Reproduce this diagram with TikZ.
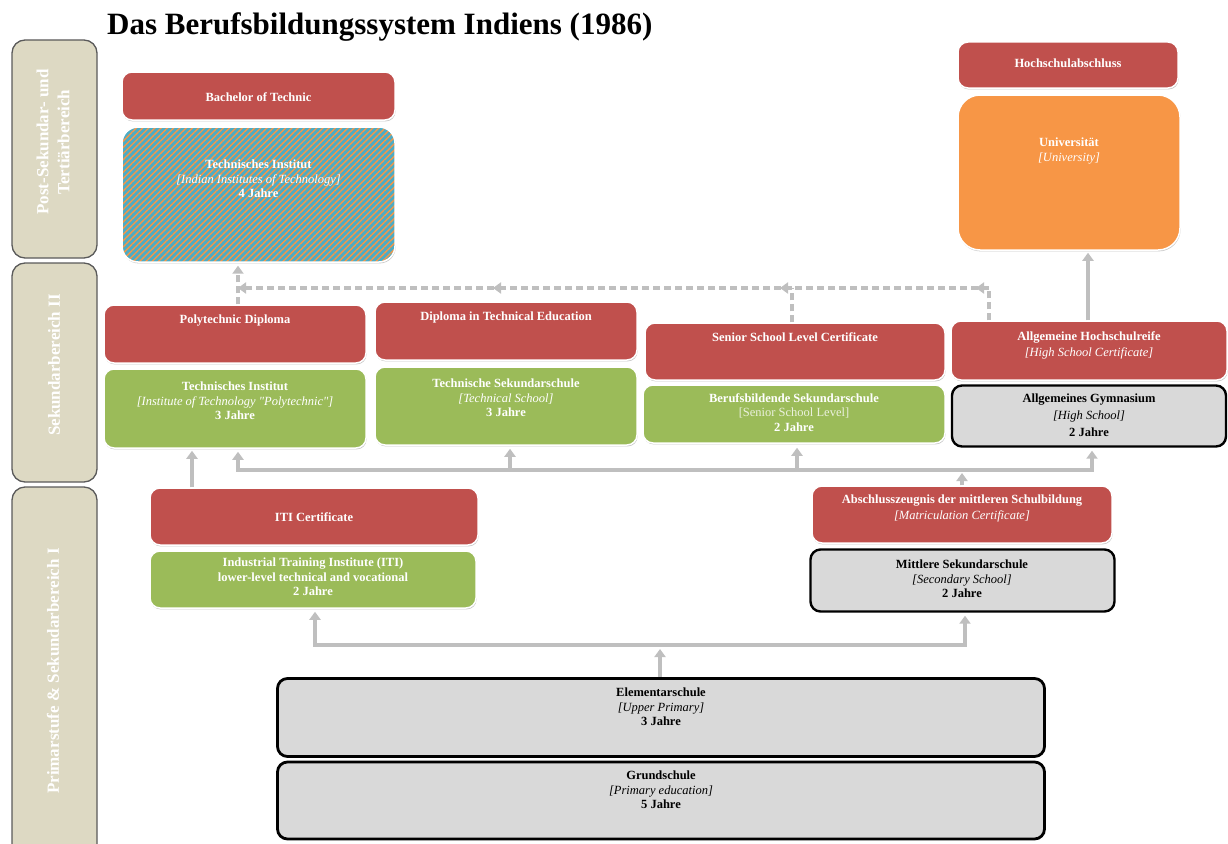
\documentclass[tikz,border=0pt]{standalone}
\usepackage{fontspec}
\setmainfont{Liberation Serif}
\usetikzlibrary{arrows.meta,shadows,patterns.meta}

\definecolor{tred}{HTML}{C0504D}
\definecolor{tgreen}{HTML}{9BBB59}
\definecolor{torange}{HTML}{F79646}
\definecolor{tteal}{HTML}{4BACC6}
\definecolor{tgrey}{HTML}{D9D9D9}
\definecolor{beige}{HTML}{DDD9C3}
\definecolor{sidedraw}{HTML}{5A5A5A}
\definecolor{arrgrey}{HTML}{BFBFBF}
\definecolor{palegreen}{HTML}{EBF1DE}

\newcommand\engl[1]{{\mdseries\itshape #1}}

\tikzset{
  box/.style={rectangle, rounded corners=10pt, draw=white, line width=1.5pt,
    inner sep=0pt,
    drop shadow={shadow xshift=0.6pt, shadow yshift=-1.4pt, opacity=0.22, fill=black}},
  redbox/.style={box, fill=tred},
  greenbox/.style={box, fill=tgreen},
  orangebox/.style={box, fill=torange, rounded corners=22pt},
  hatchbox/.style={box, preaction={fill=tteal},
    pattern={Lines[angle=45, distance=4.4pt, line width=1.4pt]}, pattern color=torange,
    rounded corners=16pt},
  greybox/.style={rectangle, rounded corners=10pt, draw=black, line width=2.4pt,
    fill=tgrey, inner sep=0pt},
  sidebox/.style={rectangle, rounded corners=13pt, draw=sidedraw, line width=1.3pt,
    fill=beige, inner sep=0pt},
  txt/.style={anchor=north, inner sep=0pt, align=center, text=white,
    font=\fontsize{12.5}{14.5}\selectfont\bfseries},
  dtxt/.style={txt, text=black},
  sidetxt/.style={rotate=90, align=center, text=white, inner sep=0pt,
    font=\fontsize{17}{21}\selectfont\bfseries},
  conn/.style={draw=arrgrey, line width=3.2pt},
  arr/.style={conn, -{Triangle[width=11pt,length=8pt]}},
  darr/.style={arr, dash pattern=on 7pt off 4pt},
  dconn/.style={conn, dash pattern=on 7pt off 4pt},
}

\begin{document}
\begin{tikzpicture}[x=1pt, y=-1pt]
\useasboundingbox (0,0) rectangle (1228,843);

% title
\node[anchor=base west, inner sep=0pt, font=\fontsize{31}{36}\selectfont\bfseries]
  (title) at (107,35) {Das Berufsbildungssystem Indiens (1986)};

% level bands on the left
\node[sidebox, minimum width=85pt, minimum height=218pt] (s1) at (54.5,149) {};
\node[sidebox, minimum width=85pt, minimum height=219pt] (s2) at (54.5,372.5) {};
\node[sidebox, minimum width=85pt, minimum height=370pt] (s3) at (54.5,672) {};
\node[sidetxt] (s1t) at (53,142) {Post-Sekundar- und\\Tertiärbereich};
\node[sidetxt] (s2t) at (54,365) {Sekundarbereich II};
\node[sidetxt] (s3t) at (53,671) {Primarstufe \& Sekundarbereich I};

% tertiary level
\node[redbox, minimum width=273pt, minimum height=48pt] (bt) at (258.5,96) {};
\node[hatchbox, minimum width=273pt, minimum height=135pt] (tip) at (258.5,194.5) {};
\node[redbox, minimum width=220pt, minimum height=46pt] (hsa) at (1068,65) {};
\node[orangebox, minimum width=222pt, minimum height=155pt] (uni) at (1069,172.5) {};

\node[txt] (bt-t) at (258.5,92) {Bachelor of Technic};
\node[txt] (tip-t) at (258.5,160) {Technisches Institut\\\engl{[Indian Institutes of Technology]}\\4 Jahre};
\node[txt] (hsa-t) at (1068,59) {Hochschulabschluss};
\node[txt] (uni-t) at (1069,138) {Universität\\\engl{[University]}};

% upper secondary level
\node[redbox, minimum width=262pt, minimum height=58pt] (pd) at (235,334) {};
\node[greenbox, minimum width=262pt, minimum height=79pt] (tinst) at (235,408.5) {};
\node[redbox, minimum width=262pt, minimum height=58pt] (dte) at (506,331) {};
\node[greenbox, minimum width=262pt, minimum height=78pt] (tss) at (506,406) {};
\node[redbox, minimum width=300pt, minimum height=57pt] (sslc) at (795,351.5) {};
\node[greenbox, minimum width=302pt, minimum height=58pt] (bss) at (794,414) {};
\node[redbox, minimum width=276pt, minimum height=59pt] (ahr) at (1089,350.5) {};
\node[greybox, minimum width=274pt, minimum height=61pt] (gym) at (1089,416) {};

\node[txt] (pd-t) at (235,315) {Polytechnic Diploma};
\node[txt] (tinst-t) at (235,382) {Technisches Institut\\\engl{[Institute of Technology \textquotedbl Polytechnic\textquotedbl]}\\3 Jahre};
\node[txt] (dte-t) at (506,312) {Diploma in Technical Education};
\node[txt] (tss-t) at (506,379) {Technische Sekundarschule\\\engl{[Technical School]}\\3 Jahre};
\node[txt] (sslc-t) at (795,332) {Senior School Level Certificate};
\node[txt] (bss-t) at (794,393) {Berufsbildende Sekundarschule\\{\mdseries\color{palegreen}[Senior School Level]}\\2 Jahre};
\node[txt, font=\fontsize{12.5}{16}\selectfont\bfseries] (ahr-t) at (1089,331) {Allgemeine Hochschulreife\\\engl{[High School Certificate]}};
\node[dtxt, font=\fontsize{12.5}{17}\selectfont\bfseries] (gym-t) at (1089,394) {Allgemeines Gymnasium\\\engl{[High School]}\\2 Jahre};

% primary and lower secondary level
\node[redbox, minimum width=328pt, minimum height=57pt] (itic) at (314,516.5) {};
\node[greenbox, minimum width=326pt, minimum height=57pt] (iti) at (313,579.5) {};
\node[redbox, minimum width=300pt, minimum height=57pt] (abs) at (962,514.5) {};
\node[greybox, minimum width=304pt, minimum height=62pt] (msk) at (962.5,580.5) {};
\node[greybox, minimum width=767pt, minimum height=78pt, line width=2.8pt] (elem) at (661,717.5) {};
\node[greybox, minimum width=767pt, minimum height=77pt, line width=2.8pt] (grund) at (661,800.5) {};

\node[txt] (itic-t) at (314,512) {ITI Certificate};
\node[txt] (iti-t) at (313,558) {Industrial Training Institute (ITI)\\lower-level technical and vocational\\2 Jahre};
\node[txt, font=\fontsize{12.5}{16}\selectfont\bfseries] (abs-t) at (962,495) {Abschlusszeugnis der mittleren Schulbildung\\\engl{[Matriculation Certificate]}};
\node[dtxt] (msk-t) at (962,560) {Mittlere Sekundarschule\\\engl{[Secondary School]}\\2 Jahre};
\node[dtxt] (elem-t) at (661,688) {Elementarschule\\\engl{[Upper Primary]}\\3 Jahre};
\node[dtxt] (grund-t) at (661,771) {Grundschule\\\engl{[Primary education]}\\5 Jahre};

% junctions
\coordinate (jA) at (989,288);
\coordinate (jB) at (792,288);
\coordinate (jC) at (505,288);
\coordinate (jD) at (238,288);
\coordinate (kA) at (192,470);
\coordinate (kB) at (962,470);
\coordinate (kT2) at (510,470);
\coordinate (kT3) at (797,470);
\coordinate (kC) at (660,645);

% dashed transitions towards the institutes of technology
\draw[darr] (ahr.north -| jA) -- (jA) -- ++(-13,0);
\draw[darr] (jA) -- ([xshift=-12pt]jB);
\draw[dconn] (sslc.north -| jB) -- (jB);
\draw[darr] (jB) -- ([xshift=-12pt]jC);
\draw[darr] (jC) -- (jD);
\draw[darr] (pd.north -| jD) -- ([yshift=-3pt]tip.south -| jD);

% solid transitions
\draw[arr] ([xshift=-1pt]ahr.north) -- ([xshift=-1pt,yshift=-2pt]ahr.north |- uni.south);
\draw[arr] (itic.north -| kA) -- ([yshift=-2pt]tinst.south -| kA);
\draw[arr] (abs.north) -- ([yshift=-3pt]kB);
\draw[arr] (kB) -| ([yshift=-3pt]tinst.south -| jD);
\draw[arr] (kB) -| ([yshift=-3pt]gym.south -| 1092,0);
\draw[arr] (kT2) -- ([yshift=-3pt]tss.south -| kT2);
\draw[arr] (kT3) -- ([yshift=-4pt]bss.south -| kT3);
\draw[arr] (elem.north -| kC) -- ([yshift=-4pt]kC);
\draw[arr] (kC) -| ([yshift=-3pt]iti.south -| 315,0);
\draw[arr] (kC) -| ([yshift=-3pt]msk.south -| 965,0);
\end{tikzpicture}
\end{document}
